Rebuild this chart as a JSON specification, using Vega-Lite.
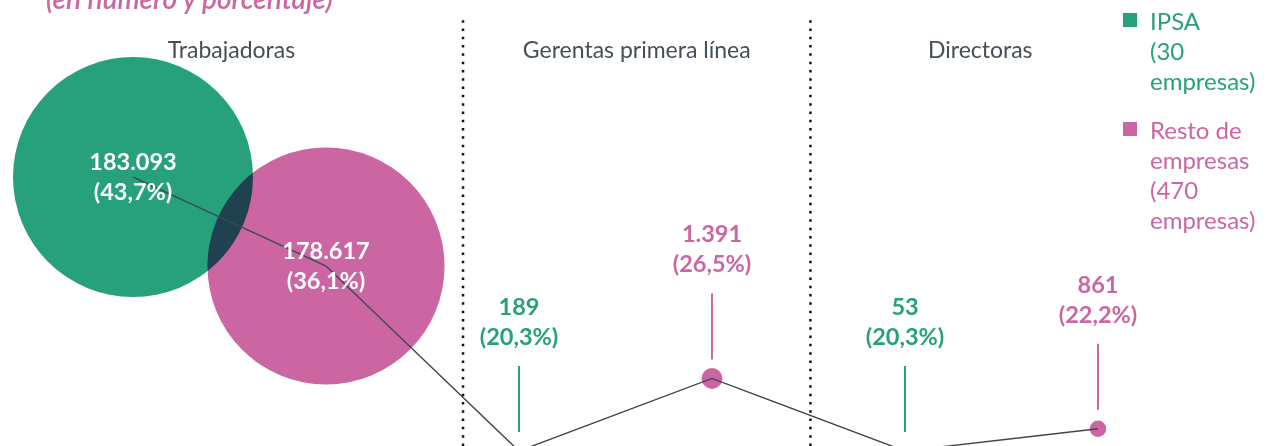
{
  "$schema": "https://vega.github.io/schema/vega-lite/v6.json",
  "width": 1268,
  "height": 446,
  "padding": 0,
  "autosize": {"type": "none"},
  "background": "white",
  "config": {
    "view": {"stroke": null},
    "font": "Lato",
    "style": {"guide-label": {"lineHeight": 30, "dy": -9}}
  },
  "title": {
    "text": "(en número y porcentaje)",
    "anchor": "start",
    "frame": "group",
    "orient": "top",
    "offset": -17,
    "dx": 46,
    "dy": 20,
    "fontSize": 28,
    "fontStyle": "italic",
    "fontWeight": 600,
    "color": "#cc66a3",
    "font": "Lato",
    "baseline": "alphabetic"
  },
  "datasets": {
    "mujeres": [
      {"grupo": "Trabajadoras", "serie": "IPSA (30 empresas)", "orden": 1, "mujeres": 183093, "porcentaje": 43.7, "etiqueta": "183.093\n(43,7%)"},
      {"grupo": "Trabajadoras", "serie": "Resto de empresas (470 empresas)", "orden": 2, "mujeres": 178617, "porcentaje": 36.1, "etiqueta": "178.617\n(36,1%)"},
      {"grupo": "Gerentas primera línea", "serie": "IPSA (30 empresas)", "orden": 3, "mujeres": 189, "porcentaje": 20.3, "etiqueta": "189\n(20,3%)"},
      {"grupo": "Gerentas primera línea", "serie": "Resto de empresas (470 empresas)", "orden": 4, "mujeres": 1391, "porcentaje": 26.5, "etiqueta": "1.391\n(26,5%)"},
      {"grupo": "Directoras", "serie": "IPSA (30 empresas)", "orden": 5, "mujeres": 53, "porcentaje": 20.3, "etiqueta": "53\n(20,3%)"},
      {"grupo": "Directoras", "serie": "Resto de empresas (470 empresas)", "orden": 6, "mujeres": 861, "porcentaje": 22.2, "etiqueta": "861\n(22,2%)"}
    ],
    "secciones": [
      {"seccion": "Trabajadoras", "centro": 1.51},
      {"seccion": "Gerentas primera línea", "centro": 3.61},
      {"seccion": "Directoras", "centro": 5.39}
    ],
    "divisiones": [
      {"limite": 2.71},
      {"limite": 4.51}
    ]
  },
  "layer": [
    {
      "data": {"name": "divisiones"},
      "mark": {"type": "rule", "color": "#111111", "strokeWidth": 2.5, "strokeDash": [2.5, 5.8]},
      "encoding": {
        "x": {"field": "limite", "type": "quantitative", "scale": {"domain": [0.3109, 6.8808], "nice": false, "zero": false}, "axis": null},
        "y": {"datum": 57.1, "type": "quantitative", "scale": {"domain": [20.73, 58.82], "nice": false, "zero": false}, "axis": null},
        "y2": {"datum": 0}
      }
    },
    {
      "data": {"name": "secciones"},
      "mark": {"type": "text", "fontSize": 23, "color": "#454f58", "baseline": "alphabetic", "align": "center"},
      "encoding": {
        "x": {"field": "centro", "type": "quantitative", "scale": {"domain": [0.3109, 6.8808], "nice": false, "zero": false}, "axis": null},
        "y": {"datum": 53.87, "type": "quantitative", "scale": {"domain": [20.73, 58.82], "nice": false, "zero": false}, "axis": null},
        "text": {"field": "seccion"}
      }
    },
    {
      "data": {"name": "mujeres"},
      "mark": {"type": "point", "shape": "circle", "filled": true, "opacity": 1, "blend": "multiply", "strokeWidth": 0},
      "encoding": {
        "x": {"field": "orden", "type": "quantitative", "scale": {"domain": [0.3109, 6.8808], "nice": false, "zero": false}, "axis": null},
        "y": {"field": "porcentaje", "type": "quantitative", "scale": {"domain": [20.73, 58.82], "nice": false, "zero": false}, "axis": null},
        "size": {"field": "mujeres", "type": "quantitative", "scale": {"type": "linear", "domain": [0, 183093], "range": [0, 57600], "zero": true}, "legend": null},
        "color": {
          "field": "serie",
          "type": "nominal",
          "scale": {"domain": ["IPSA (30 empresas)", "Resto de empresas (470 empresas)"], "range": ["#27a17b", "#cc66a3"]},
          "legend": {
            "orient": "none",
            "legendX": 1118,
            "legendY": 8,
            "title": null,
            "symbolType": "square",
            "symbolSize": 196,
            "symbolStrokeWidth": 0,
            "labelFontSize": 24,
            "labelFont": "Lato",
            "labelLimit": 0,
            "labelBaseline": "top",
            "labelOffset": 8,
            "rowPadding": 22,
            "labelColor": {"expr": "datum.value == 'IPSA (30 empresas)' ? '#27a17b' : '#cc66a3'"},
            "labelExpr": "datum.value == 'IPSA (30 empresas)' ? ['IPSA', '(30', 'empresas)'] : ['Resto de', 'empresas', '(470', 'empresas)']"
          }
        }
      }
    },
    {
      "data": {"name": "mujeres"},
      "mark": {"type": "line", "color": "#3c4750", "strokeWidth": 1.4},
      "encoding": {
        "x": {"field": "orden", "type": "quantitative", "scale": {"domain": [0.3109, 6.8808], "nice": false, "zero": false}, "axis": null},
        "y": {"field": "porcentaje", "type": "quantitative", "scale": {"domain": [20.73, 58.82], "nice": false, "zero": false}, "axis": null}
      }
    },
    {
      "data": {"name": "mujeres"},
      "transform": [{"filter": "datum.grupo != 'Trabajadoras'"}],
      "mark": {"type": "rule", "strokeWidth": 2, "yOffset": -19, "y2Offset": -85},
      "encoding": {
        "x": {"field": "orden", "type": "quantitative", "scale": {"domain": [0.3109, 6.8808], "nice": false, "zero": false}, "axis": null},
        "y": {"field": "porcentaje", "type": "quantitative", "scale": {"domain": [20.73, 58.82], "nice": false, "zero": false}, "axis": null},
        "y2": {"field": "porcentaje"},
        "color": {"field": "serie", "type": "nominal"}
      }
    },
    {
      "data": {"name": "mujeres"},
      "transform": [{"filter": "datum.grupo != 'Trabajadoras'"}],
      "mark": {"type": "text", "fontSize": 23.5, "fontWeight": "bold", "baseline": "middle", "align": "center", "dy": -143, "lineBreak": "\n", "lineHeight": 30},
      "encoding": {
        "x": {"field": "orden", "type": "quantitative", "scale": {"domain": [0.3109, 6.8808], "nice": false, "zero": false}, "axis": null},
        "y": {"field": "porcentaje", "type": "quantitative", "scale": {"domain": [20.73, 58.82], "nice": false, "zero": false}, "axis": null},
        "text": {"field": "etiqueta"},
        "color": {"field": "serie", "type": "nominal"}
      }
    },
    {
      "data": {"name": "mujeres"},
      "transform": [{"filter": "datum.grupo == 'Trabajadoras'"}],
      "mark": {"type": "text", "fontSize": 23.5, "fontWeight": "bold", "baseline": "middle", "align": "center", "dy": -14, "lineBreak": "\n", "lineHeight": 30, "color": "white"},
      "encoding": {
        "x": {"field": "orden", "type": "quantitative", "scale": {"domain": [0.3109, 6.8808], "nice": false, "zero": false}, "axis": null},
        "y": {"field": "porcentaje", "type": "quantitative", "scale": {"domain": [20.73, 58.82], "nice": false, "zero": false}, "axis": null},
        "text": {"field": "etiqueta"}
      }
    }
  ]
}
